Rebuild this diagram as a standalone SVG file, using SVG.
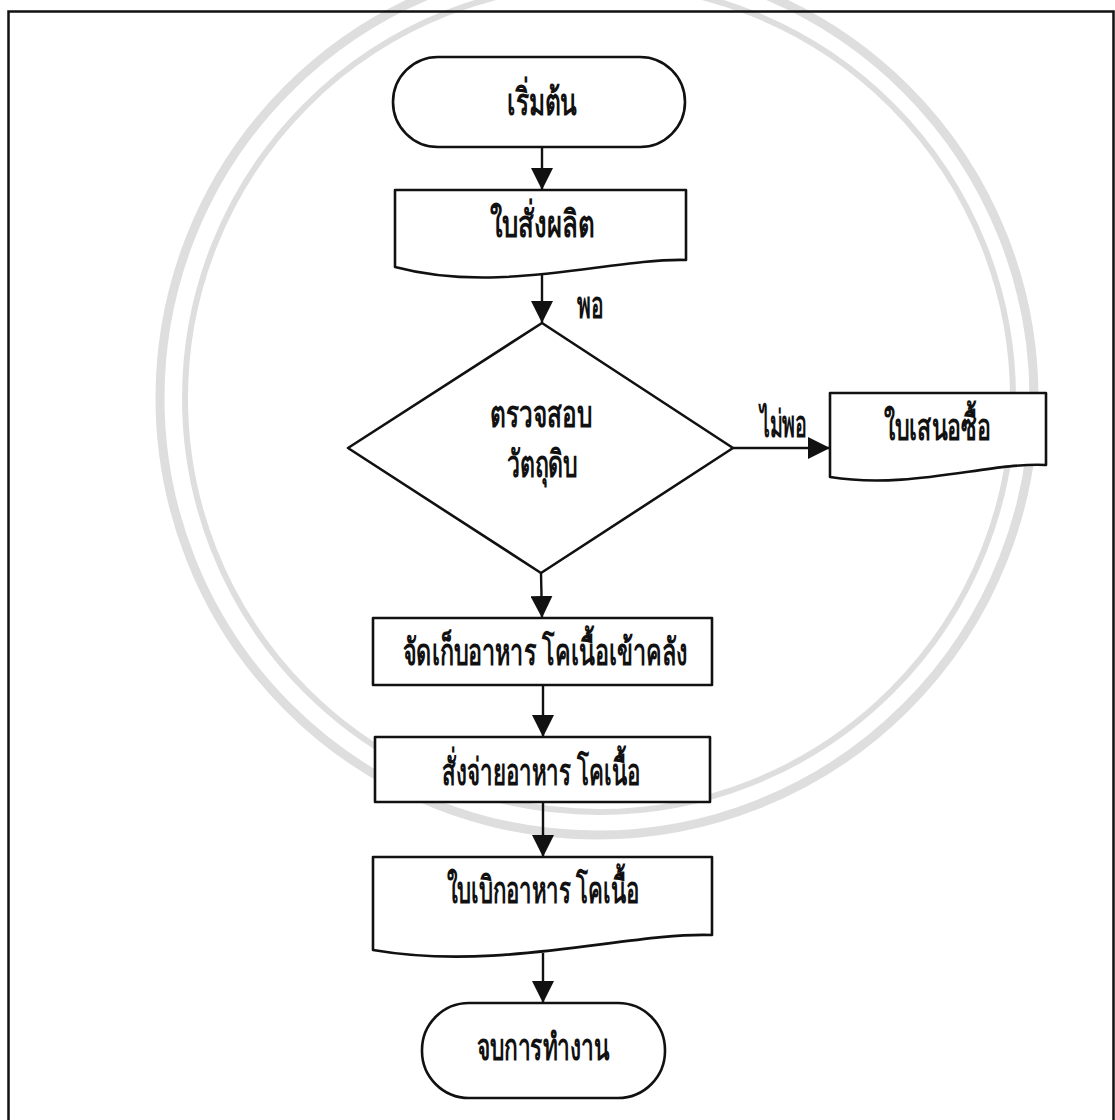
<svg xmlns="http://www.w3.org/2000/svg" width="1115" height="1120" viewBox="0 0 1115 1120">
<style>
.shape{fill:#fff;stroke:#111;stroke-width:2.6;stroke-linejoin:round}
.edge{fill:none;stroke:#111;stroke-width:2.4}
.t{font-family:"Noto Sans","DejaVu Sans",sans-serif;font-weight:bold;font-size:37px;fill:#111;text-anchor:middle}
.seal{fill:none;stroke:#dedede}
</style>
<defs>
<marker id="ah" markerUnits="userSpaceOnUse" markerWidth="22" markerHeight="22" refX="22" refY="11" orient="auto">
<path d="M0,0 L22,11 L0,22 Z" fill="#111"/>
</marker>
</defs>
<rect width="1115" height="1120" fill="#fff"/>
<g id="watermark">
<circle class="seal" cx="597" cy="398" r="437" stroke-width="9"/>
<circle class="seal" cx="599" cy="398" r="414" stroke-width="6"/>
</g>
<path d="M8.5,1120 V11.5 H1113.5 V1120" fill="none" stroke="#111" stroke-width="2.5"/>
<g id="connectors">
<line class="edge" x1="542" y1="147" x2="542" y2="190" marker-end="url(#ah)"/>
<line class="edge" x1="542" y1="274" x2="542" y2="323" marker-end="url(#ah)"/>
<line class="edge" x1="541" y1="573" x2="542" y2="618" marker-end="url(#ah)"/>
<line class="edge" x1="733" y1="448" x2="830" y2="448" marker-end="url(#ah)"/>
<line class="edge" x1="543" y1="685" x2="543" y2="737" marker-end="url(#ah)"/>
<line class="edge" x1="543" y1="802" x2="543" y2="857" marker-end="url(#ah)"/>
<line class="edge" x1="543" y1="953" x2="543" y2="1003" marker-end="url(#ah)"/>
<text class="t" x="590" y="318" font-size="27" textLength="26" lengthAdjust="spacingAndGlyphs">พอ</text>
<text class="t" x="783" y="437" font-size="27" textLength="47" lengthAdjust="spacingAndGlyphs">ไม่พอ</text>
</g>
<g id="start">
<rect class="shape" x="393" y="57" width="292" height="90" rx="45"/>
<text class="t" x="542" y="115" textLength="70" lengthAdjust="spacingAndGlyphs">เริ่มต้น</text>
</g>
<g id="order">
<path class="shape" d="M395,190 H686 V260 C610,258 500,295 395,267 Z"/>
<text class="t" x="542" y="237" textLength="105" lengthAdjust="spacingAndGlyphs">ใบสั่งผลิต</text>
</g>
<g id="check">
<path class="shape" d="M542,323 L733,448 L541,573 L348,448 Z"/>
<text class="t" x="541" y="427" textLength="102" lengthAdjust="spacingAndGlyphs">ตรวจสอบ</text>
<text class="t" x="542" y="477" textLength="71" lengthAdjust="spacingAndGlyphs">วัตถุดิบ</text>
</g>
<g id="purchase">
<path class="shape" d="M830,393 H1046 V465 C990,462 910,490 830,477 Z"/>
<text class="t" x="937" y="440" textLength="107" lengthAdjust="spacingAndGlyphs">ใบเสนอซื้อ</text>
</g>
<g id="store">
<rect class="shape" x="373" y="618" width="339" height="67"/>
<text class="t" x="545" y="665" textLength="285" lengthAdjust="spacingAndGlyphs">จัดเก็บอาหาร โคเนื้อเข้าคลัง</text>
</g>
<g id="dispense">
<rect class="shape" x="375" y="737" width="335" height="65"/>
<text class="t" x="541" y="785" textLength="198" lengthAdjust="spacingAndGlyphs">สั่งจ่ายอาหาร โคเนื้อ</text>
</g>
<g id="requisition">
<path class="shape" d="M373,857 H712 V935 C630,932 500,972 373,950 Z"/>
<text class="t" x="543" y="903" textLength="193" lengthAdjust="spacingAndGlyphs">ใบเบิกอาหาร โคเนื้อ</text>
</g>
<g id="end">
<rect class="shape" x="422" y="1003" width="243" height="95" rx="47"/>
<text class="t" x="543" y="1060" textLength="133" lengthAdjust="spacingAndGlyphs">จบการทำงาน</text>
</g>
</svg>
